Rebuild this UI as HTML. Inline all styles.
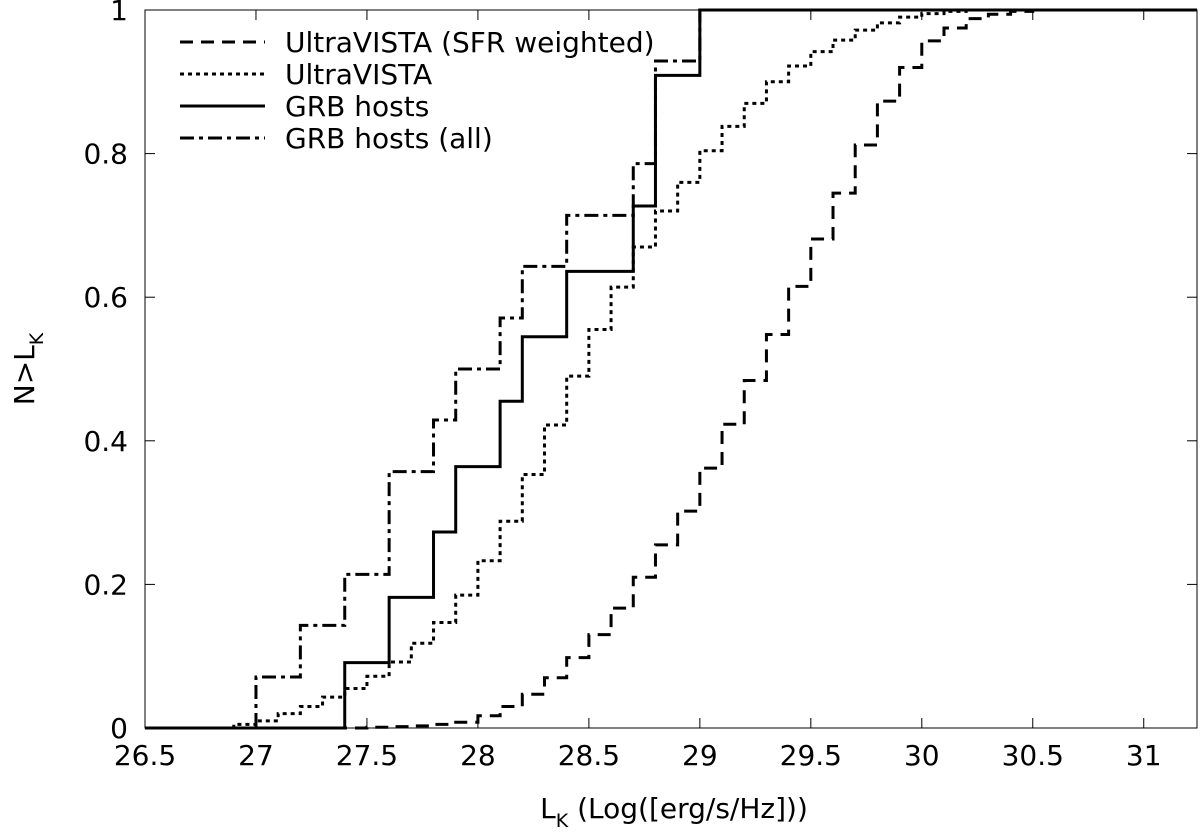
<!DOCTYPE html>
<html><head><meta charset="utf-8"><style>
body{margin:0;background:#fff}
svg text{font-family:"DejaVu Sans","Liberation Sans",sans-serif;fill:#000}
</style></head><body>
<svg id="chart" width="1200" height="833" xmlns="http://www.w3.org/2000/svg">
<g id="axes"></g>
<g id="series"></g>
<g id="legend"></g>
</svg>
<script>
const xTicks=[26.5,27,27.5,28,28.5,29,29.5,30,30.5,31];
const xTickLabels=["26.5","27","27.5","28","28.5","29","29.5","30","30.5","31"];
const yTicks=[0,0.2,0.4,0.6,0.8,1];
const yTickLabels=["0","0.2","0.4","0.6","0.8","1"];
const sfrEdges=[27.5,27.6,27.7,27.8,27.9,28.0,28.1,28.2,28.3,28.4,28.5,28.6,28.7,28.8,28.9,29.0,29.1,29.2,29.3,29.4,29.5,29.6,29.7,29.8,29.9,30.0,30.1,30.2,30.3,30.4,30.5];
const sfrValues=[0.001,0.002,0.003,0.005,0.008,0.017,0.03,0.047,0.07,0.098,0.13,0.167,0.21,0.255,0.302,0.362,0.423,0.484,0.548,0.615,0.681,0.745,0.812,0.873,0.92,0.957,0.975,0.988,0.994,0.998,1];
const uvEdges=[26.9,27.0,27.1,27.2,27.3,27.4,27.5,27.6,27.7,27.8,27.9,28.0,28.1,28.2,28.3,28.4,28.5,28.6,28.7,28.8,28.9,29.0,29.1,29.2,29.3,29.4,29.5,29.6,29.7,29.8,29.9,30.0,30.1,30.2];
const uvValues=[0.005,0.01,0.02,0.03,0.043,0.055,0.072,0.092,0.118,0.147,0.185,0.233,0.288,0.353,0.422,0.49,0.555,0.614,0.67,0.72,0.76,0.804,0.838,0.87,0.9,0.922,0.942,0.958,0.972,0.982,0.99,0.995,0.998,1];
const grbEdges=[27.4,27.6,27.8,27.9,28.1,28.2,28.4,28.7,28.8,29.0];
const grbValues=[0.091,0.182,0.273,0.364,0.455,0.545,0.636,0.727,0.909,1];
const allEdges=[27.0,27.2,27.4,27.6,27.8,27.9,28.1,28.2,28.4,28.7,28.8,29.0];
const allValues=[0.071,0.143,0.214,0.357,0.429,0.5,0.571,0.643,0.714,0.786,0.929,1];

const NS="http://www.w3.org/2000/svg";
const L=145,R=1197,T=10,B=728,XMIN=26.5,XMAX=31.24;
const sx=v=>L+(v-XMIN)/(XMAX-XMIN)*(R-L);
const sy=v=>B-v*(B-T);
function mk(tag,attrs,parent,text){const e=document.createElementNS(NS,tag);for(const k in attrs)e.setAttribute(k,attrs[k]);if(text!==undefined)e.textContent=text;parent.appendChild(e);return e;}
const axes=document.getElementById('axes');
const frame=mk('rect',{x:L,y:T,width:R-L,height:B-T,fill:'none',stroke:'#000','stroke-width':1},axes);


xTicks.forEach((t,i)=>{
  const x=sx(t);
  const a=mk('line',{x1:x,x2:x,y1:B,y2:B-10,stroke:'#000'},axes);
  
  
  mk('line',{x1:x,x2:x,y1:T,y2:T+10,stroke:'#000'},axes);
  const tx=mk('text',{x:x,y:B+37,'text-anchor':'middle','font-size':28},axes,xTickLabels[i]);
  
  
});
yTicks.forEach((t,i)=>{
  const y=sy(t);
  const a=mk('line',{x1:L,x2:L+10,y1:y,y2:y,stroke:'#000'},axes);
  
  
  mk('line',{x1:R,x2:R-10,y1:y,y2:y,stroke:'#000'},axes);
  const tx=mk('text',{x:L-17,y:y+10,'text-anchor':'end','font-size':28},axes,yTickLabels[i]);
  
  
});
const xt=mk('text',{x:674,y:818,'text-anchor':'middle','font-size':28},axes);


xt.innerHTML='L<tspan font-size="19" dy="9">K</tspan><tspan dy="-9"> (Log([erg/s/Hz]))</tspan>';
const yt=mk('text',{transform:'translate(34,369) rotate(-90)','text-anchor':'middle','font-size':28},axes);


yt.innerHTML='N&gt;L<tspan font-size="19" dy="9">K</tspan>';

const styles={sfr:'13,8',uv:'4,4',grb:'',all:'14,5,4,5'};
function stepPath(edges,vals){
  let d='M'+sx(XMIN)+','+sy(0);
  edges.forEach((e,i)=>{const x=sx(e);d+=' L'+x+','+sy(i?vals[i-1]:0)+' L'+x+','+sy(vals[i]);});
  d+=' L'+R+','+sy(vals[vals.length-1]);
  return d;
}
const sg=document.getElementById('series');
[[sfrEdges,sfrValues,'sfr','series-ultravista-sfr-weighted'],[uvEdges,uvValues,'uv','series-ultravista'],[grbEdges,grbValues,'grb','series-grb-hosts'],[allEdges,allValues,'all','series-grb-hosts-all']].forEach(s=>{
  const p=mk('path',{d:stepPath(s[0],s[1]),fill:'none',stroke:'#000','stroke-width':3,'stroke-dasharray':styles[s[2]]||'none'},sg);
  
  
});
const lg=document.getElementById('legend');
const entries=[['UltraVISTA (SFR weighted)','sfr'],['UltraVISTA','uv'],['GRB hosts','grb'],['GRB hosts (all)','all']];
entries.forEach((e,i)=>{
  const y=42+i*32;
  const g=mk('g',{},lg);
  
  
  mk('line',{x1:180,x2:265,y1:y,y2:y,stroke:'#000','stroke-width':3,'stroke-dasharray':styles[e[1]]||'none'},g);
  mk('text',{x:285,y:y+10,'font-size':28},g,e[0]);
});
</script>
</body></html>
